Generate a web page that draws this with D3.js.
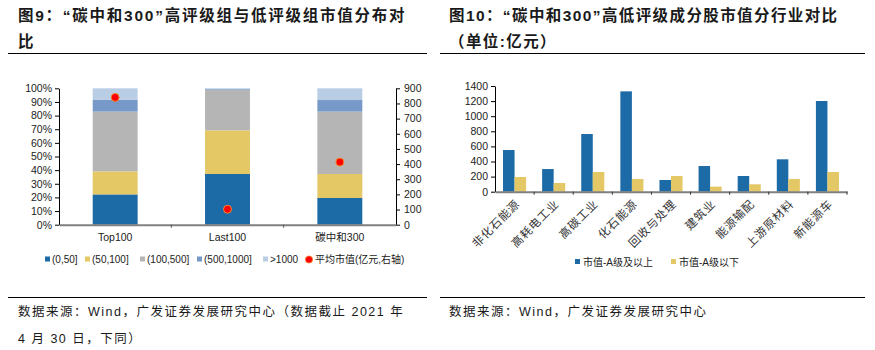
<!DOCTYPE html>
<html><head><meta charset="utf-8">
<script src="https://cdn.jsdelivr.net/npm/d3@7"></script>
<style>
body{margin:0;background:#fff;}
svg{display:block;}
</style></head><body>
<svg id="c" width="875" height="350"></svg>
<script>
// ---------- Data: left chart ----------
const groups = ["Top100", "Last100", "碳中和300"];
const bucketNames = ["(0,50]", "(50,100]", "(100,500]", "(500,1000]", ">1000"];
const share0_50 = [22.2, 37.2, 19.6];
const share50_100 = [16.9, 32.0, 17.6];
const share100_500 = [43.8, 29.8, 45.7];
const share500_1000 = [8.8, 0.5, 8.5];
const shareOver1000 = [8.3, 0.5, 8.6];
const avgCap = [840, 102, 413];
const leftTicks = [0,10,20,30,40,50,60,70,80,90,100];
const rightTicks = [0,100,200,300,400,500,600,700,800,900];

// ---------- Data: right chart ----------
const industries = ["非化石能源","高耗电工业","高碳工业","化石能源","回收与处理","建筑业","能源输配","上游原材料","新能源车"];
const capHigh = [552, 300, 764, 1329, 155, 340, 208, 429, 1201];
const capLow = [195, 115, 261, 168, 208, 67, 98, 168, 261];
const seriesNames = ["市值-A级及以上", "市值-A级以下"];
const rTicks = [0,200,400,600,800,1000,1200,1400];

const bucketColors = ["#1c6aa6", "#e4c866", "#b5b5b5", "#7799c7", "#b9cde5"];
const seriesColors = ["#1c6aa6", "#e4c866"];

const svg = d3.select("#c");
const cjk = '"Liberation Sans","Noto Sans CJK SC",sans-serif';
const lat = '"Liberation Sans",Arial,sans-serif';

// ---------- Headers ----------
function header(x, lines, x1, x2, ls) {
  lines.forEach((t, i) => {
    svg.append("text").attr("x", x).attr("y", 20.5 + i * 26.5)
      .attr("font-family", cjk).attr("font-weight", "bold")
      .attr("font-size", 15.5).attr("letter-spacing", ls).attr("fill", "#1a1a1a").text(t);
  });
  svg.append("line").attr("x1", x1).attr("x2", x2).attr("y1", 53.5).attr("y2", 53.5)
    .attr("stroke", "#000").attr("stroke-width", 1);
}
header(18, ["图9：“碳中和300”高评级组与低评级组市值分布对", "比"], 8, 427, 1.75);
header(449, ["图10：“碳中和300”高低评级成分股市值分行业对比", "（单位:亿元）"], 440, 865, 1.4);

// ---------- Footers ----------
svg.append("line").attr("x1", 8).attr("x2", 427).attr("y1", 297.5).attr("y2", 297.5).attr("stroke", "#000");
svg.append("line").attr("x1", 440).attr("x2", 865).attr("y1", 297.5).attr("y2", 297.5).attr("stroke", "#000");
function foot(x, y, t) {
  svg.append("text").attr("x", x).attr("y", y).attr("font-family", cjk)
    .attr("font-size", 12.5).attr("letter-spacing", 1.5).attr("fill", "#1a1a1a").text(t);
}
foot(18, 316, "数据来源：Wind，广发证券发展研究中心（数据截止 2021 年");
foot(18, 343, "4 月 30 日，下同）");
foot(449, 316, "数据来源：Wind，广发证券发展研究中心");

// ---------- Left chart ----------
(function(){
  const x0 = 59, x1 = 396, yTop = 88.3, yBot = 224.7;
  const x = d3.scaleBand().domain(groups).range([x0, x1]).paddingInner(0.6).paddingOuter(0.3);
  const xb = d3.scaleBand().domain(groups).range([x0, x1]);
  const yL = d3.scaleLinear().domain([0, 100]).range([yBot, yTop]);
  const yR = d3.scaleLinear().domain([0, 900]).range([yBot, yTop]);
  const g = svg.append("g");
  const shares = [share0_50, share50_100, share100_500, share500_1000, shareOver1000];
  const rows = groups.map((gname, i) => {
    const r = {group: gname};
    bucketNames.forEach((b, k) => r[b] = shares[k][i]);
    return r;
  });
  const stack = d3.stack().keys(bucketNames)(rows);
  stack.forEach((layer, k) => {
    g.selectAll(null).data(layer).enter().append("rect")
      .attr("x", d => x(d.data.group)).attr("width", x.bandwidth())
      .attr("y", d => yL(Math.min(100, d[1]))).attr("height", d => yL(d[0]) - yL(Math.min(100, d[1])))
      .attr("fill", bucketColors[k]);
  });
  const axL = g.append("g").attr("transform", `translate(${x0},0)`)
    .call(d3.axisLeft(yL).tickValues(leftTicks).tickFormat(d => d + "%").tickSize(4).tickSizeOuter(0));
  axL.attr("font-family", lat);
  axL.select(".domain").attr("stroke", "#000");
  axL.selectAll("text").attr("font-size", 10.5).attr("fill", "#222").attr("x", -7);
  const axR = g.append("g").attr("transform", `translate(${x1},0)`)
    .call(d3.axisRight(yR).tickValues(rightTicks).tickSize(4).tickSizeOuter(0));
  axR.attr("font-family", lat);
  axR.select(".domain").attr("stroke", "#000");
  axR.selectAll("text").attr("font-size", 10.5).attr("fill", "#222").attr("x", 8);
  const axX = g.append("g").attr("transform", `translate(0,${yBot})`)
    .call(d3.axisBottom(xb).tickSize(0).tickSizeOuter(0));
  axX.attr("font-family", cjk);
  axX.select(".domain").attr("stroke", "#808080").attr("stroke-width", 2);
  axX.selectAll("text").attr("font-size", 10.5).attr("fill", "#222").attr("dy", "1.3em");
  [1, 2].forEach(i => {
    g.append("line").attr("x1", xb.step() * i + x0).attr("x2", xb.step() * i + x0)
      .attr("y1", yBot).attr("y2", yBot + 3).attr("stroke", "#555");
  });
  g.selectAll(null).data(groups).enter().append("circle")
    .attr("cx", d => x(d) + x.bandwidth() / 2).attr("cy", (d, i) => yR(avgCap[i]))
    .attr("r", 4).attr("fill", "#ff0000").attr("stroke", "#f28a30").attr("stroke-width", 1);
  const lg = svg.append("g").attr("font-family", cjk).attr("fill", "#222");
  const lx = [45, 85, 140, 197, 263];
  bucketNames.forEach((b, k) => {
    lg.append("rect").attr("x", lx[k]).attr("y", 256.5).attr("width", 5).attr("height", 5).attr("fill", bucketColors[k]);
    lg.append("text").attr("x", lx[k] + 7).attr("y", 263).attr("font-size", 10).text(b);
  });
  lg.append("circle").attr("cx", 309).attr("cy", 259.5).attr("r", 3.6).attr("fill", "#ff0000").attr("stroke", "#f28a30").attr("stroke-width", 0.8);
  lg.append("text").attr("x", 315).attr("y", 263).attr("font-size", 10).text("平均市值(亿元,右轴)");
})();

// ---------- Right chart ----------
(function(){
  const x0 = 495, x1 = 847, yTop = 86, yBot = 191.7;
  const x = d3.scaleBand().domain(industries).range([x0, x1]);
  const inner = d3.scaleBand().domain([0, 1]).range([x.step() * 0.205, x.step() * 0.795]);
  const y = d3.scaleLinear().domain([0, 1400]).range([yBot, yTop]);
  const g = svg.append("g");
  [capHigh, capLow].forEach((vals, s) => {
    g.selectAll(null).data(industries).enter().append("rect")
      .attr("x", d => x(d) + inner(s)).attr("width", inner.bandwidth())
      .attr("y", (d, i) => y(vals[i])).attr("height", (d, i) => yBot - y(vals[i]))
      .attr("fill", seriesColors[s]);
  });
  const axY = g.append("g").attr("transform", `translate(${x0},0)`)
    .call(d3.axisLeft(y).tickValues(rTicks).tickFormat(d3.format("d")).tickSize(4).tickSizeOuter(0));
  axY.attr("font-family", lat);
  axY.select(".domain").attr("stroke", "#000");
  axY.selectAll("text").attr("font-size", 10.5).attr("fill", "#222").attr("x", -7);
  const axX = g.append("g").attr("transform", `translate(0,${yBot})`)
    .call(d3.axisBottom(x).tickSize(0).tickSizeOuter(0));
  axX.attr("font-family", cjk);
  axX.select(".domain").attr("stroke", "#808080").attr("stroke-width", 2);
  axX.selectAll("text").attr("font-size", 11.5).attr("letter-spacing", 0.8).attr("fill", "#333")
    .attr("text-anchor", "end").attr("dy", 0).attr("y", 0)
    .attr("transform", "translate(6,13) rotate(-45)");
  for (let i = 1; i <= industries.length; i++) {
    g.append("line").attr("x1", x0 + x.step() * i).attr("x2", x0 + x.step() * i)
      .attr("y1", yBot).attr("y2", yBot + 3).attr("stroke", "#333");
  }
  const lg = svg.append("g").attr("font-family", cjk);
  const lx = [575, 671];
  seriesNames.forEach((n, s) => {
    lg.append("rect").attr("x", lx[s]).attr("y", 259).attr("width", 5).attr("height", 5).attr("fill", seriesColors[s]);
    lg.append("text").attr("x", lx[s] + 8).attr("y", 265.5).attr("font-size", 10).attr("fill", "#222").text(n);
  });
})();
</script>
</body></html>
